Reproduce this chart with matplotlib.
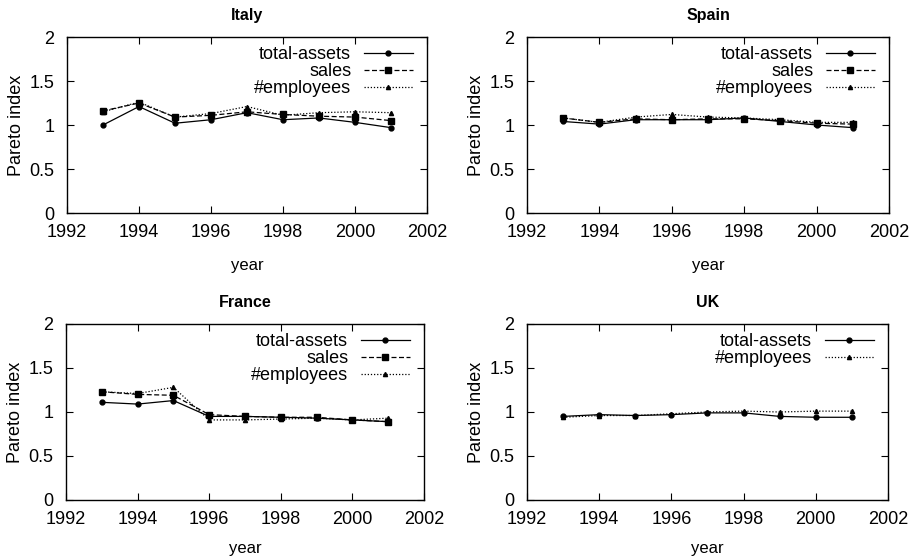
import matplotlib.pyplot as plt

plt.rcParams['font.family'] = ['Liberation Sans', 'DejaVu Sans']

years = [1993, 1994, 1995, 1996, 1997, 1998, 1999, 2000, 2001]

italy_assets = [1.00, 1.21, 1.02, 1.06, 1.14, 1.06, 1.08, 1.03, 0.97]
italy_sales = [1.16, 1.25, 1.09, 1.11, 1.15, 1.12, 1.10, 1.09, 1.05]
italy_empl = [1.15, 1.26, 1.09, 1.13, 1.21, 1.11, 1.14, 1.15, 1.14]

spain_assets = [1.04, 1.01, 1.06, 1.06, 1.06, 1.08, 1.04, 1.00, 0.97]
spain_sales = [1.08, 1.03, 1.07, 1.06, 1.07, 1.07, 1.05, 1.02, 1.01]
spain_empl = [1.08, 1.03, 1.09, 1.12, 1.09, 1.08, 1.06, 1.03, 1.03]

france_assets = [1.11, 1.09, 1.13, 0.95, 0.95, 0.94, 0.93, 0.91, 0.89]
france_sales = [1.23, 1.20, 1.19, 0.97, 0.95, 0.94, 0.94, 0.91, 0.89]
france_empl = [1.23, 1.21, 1.28, 0.91, 0.91, 0.92, 0.93, 0.91, 0.93]

uk_assets = [0.95, 0.97, 0.96, 0.97, 0.99, 0.99, 0.95, 0.94, 0.94]
uk_empl = [0.94, 0.96, 0.96, 0.98, 1.00, 1.01, 1.00, 1.01, 1.01]

styles = {
    'total-assets': dict(linestyle='-', marker='o', markersize=3.5),
    'sales': dict(linestyle=(0, (4, 2)), marker='s', markersize=4.5),
    '#employees': dict(linestyle=(0, (1, 1.5)), marker='^', markersize=3),
}

panels = [
    ('Italy', {'total-assets': italy_assets, 'sales': italy_sales, '#employees': italy_empl}),
    ('Spain', {'total-assets': spain_assets, 'sales': spain_sales, '#employees': spain_empl}),
    ('France', {'total-assets': france_assets, 'sales': france_sales, '#employees': france_empl}),
    ('UK', {'total-assets': uk_assets, '#employees': uk_empl}),
]

# axes boxes in pixels (left, top, right, bottom) on a 921x557 canvas
W, H = 921, 557
boxes = [(67, 37, 427, 213), (527, 37, 889, 213), (66, 324, 424, 500), (527, 324, 888, 500)]
xlabel_pad = [12, 12, 9, 9]

fig = plt.figure(figsize=(9.21, 5.57), dpi=100)

for (name, series), (l, t, r, b), xpad in zip(panels, boxes, xlabel_pad):
    ax = fig.add_axes([l / W, 1 - b / H, (r - l) / W, (b - t) / H])
    for label, vals in series.items():
        ax.plot(years, vals, color='black', linewidth=0.9, label=label, **styles[label])
    ax.set_xlim(1992, 2002)
    ax.set_ylim(0, 2)
    ax.set_xticks(range(1992, 2003, 2))
    ax.set_yticks([0, 0.5, 1, 1.5, 2])
    ax.set_yticklabels(['0', '0.5', '1', '1.5', '2'])
    ax.tick_params(direction='in', top=True, right=True, length=5, labelsize=13)
    ax.tick_params(axis='x', pad=8)
    ax.tick_params(axis='y', pad=9)
    for s in ax.spines.values():
        s.set_linewidth(1.0)
    ax.set_title(name, fontsize=11.5, pad=12, fontweight='bold')
    ax.set_xlabel('year', fontsize=12, labelpad=xpad)
    ax.set_ylabel('Pareto index', fontsize=13, labelpad=3)
    ax.legend(loc='upper right', frameon=False, markerfirst=False, fontsize=13,
              handlelength=2.7, handletextpad=0.7, borderpad=0.1, labelspacing=0.0,
              borderaxespad=0.4, bbox_to_anchor=(0.985, 1.0))

fig.savefig('out.png', dpi=100)
